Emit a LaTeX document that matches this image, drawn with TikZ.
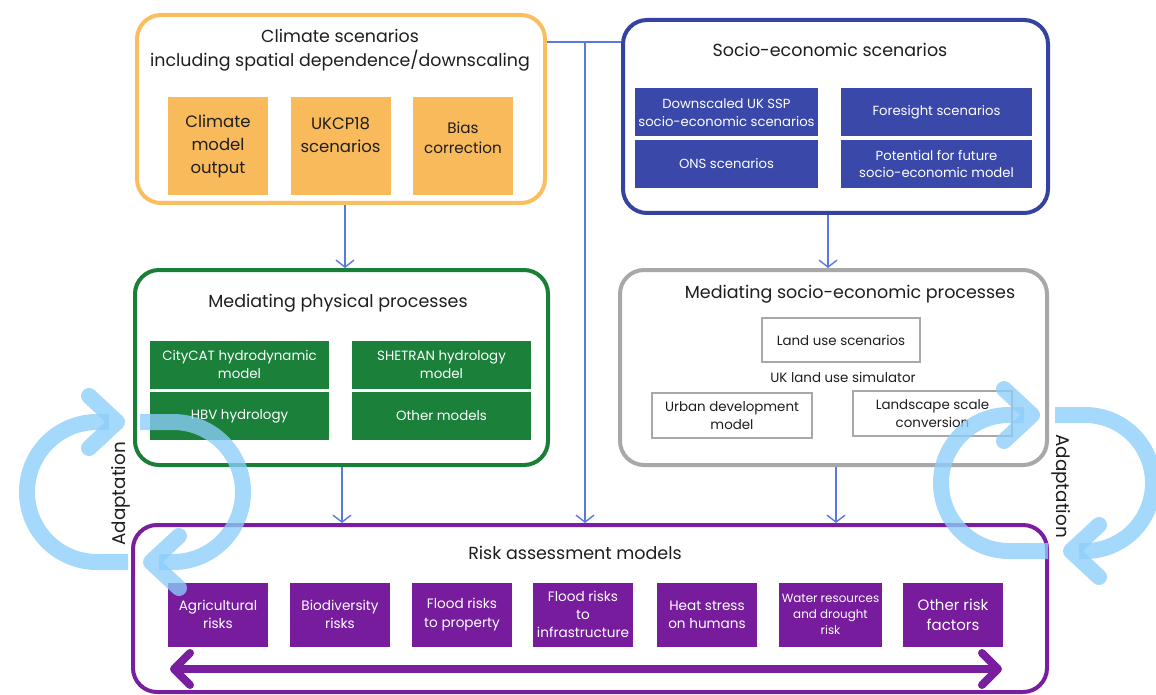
\documentclass[tikz,border=0pt]{standalone}
\usepackage{fontspec}
\setmainfont{Poppins}
\usetikzlibrary{arrows.meta}
\definecolor{corange}{RGB}{250,190,95}
\definecolor{forange}{RGB}{249,186,92}
\definecolor{cblue}{RGB}{52,66,160}
\definecolor{fblue}{RGB}{58,72,170}
\definecolor{cgreen}{RGB}{24,126,56}
\definecolor{fgreen}{RGB}{26,128,58}
\definecolor{cgray}{RGB}{168,168,168}
\definecolor{cpurple}{RGB}{122,30,160}
\definecolor{fpurple}{RGB}{118,28,156}
\definecolor{lblue}{RGB}{140,206,250}
\definecolor{cconn}{RGB}{88,120,226}
\definecolor{ctext}{RGB}{30,30,30}
\tikzset{
  fs/.style={font=\fontsize{#1}{\dimexpr #1pt*135/100\relax}\selectfont},
  big/.style={draw=#1, line width=4pt, rounded corners=24pt, fill=white},
  title/.style={text=ctext, align=center, fs=17.5},
  fbox/.style={fill=#1, draw=none, inner sep=0pt, align=center, text=white},
  gbox/.style={draw=cgray, line width=2.5pt, fill=white, inner sep=0pt, align=center, text=ctext, fs=13.4},
  conn/.style={draw=cconn, line width=1.4pt, -{Straight Barb[length=7pt,width=18pt,line width=1.4pt]}},
  connline/.style={draw=cconn, line width=1.4pt},
  dbl/.style={draw=cpurple, line width=8pt, {Straight Barb[length=16pt,width=32pt,line width=8pt,round]}-{Straight Barb[length=16pt,width=32pt,line width=8pt,round]}},
  loop/.style={draw=lblue, line width=16pt, draw opacity=0.78, -{Straight Barb[length=28pt,width=52pt,line width=16pt,round]}},
  ada/.style={text=ctext, fs=18.4},
  otext/.style={text=ctext, align=center, inner sep=0pt, font=\fontsize{16.5}{23}\selectfont},
}
\begin{document}
\begin{tikzpicture}[x=1pt,y=-1pt]
\useasboundingbox (0,0) rectangle (1156,695);
% big boxes
\node[big=corange, minimum width=408pt, minimum height=188pt] (clim) at (341,109) {};
\node[big=cblue, minimum width=425pt, minimum height=193pt] (socio) at (835.5,116.5) {};
\node[big=cgreen, minimum width=413pt, minimum height=195pt] (phys) at (341.5,367.5) {};
\node[big=cgray, minimum width=427pt, minimum height=195pt] (sproc) at (833.5,367.5) {};
\node[big=cpurple, minimum width=914pt, minimum height=167pt] (risk) at (590,608.5) {};
% titles
\node[title, font=\fontsize{17.4}{24}\selectfont] (tclim) at (340,50) {Climate scenarios\\including spatial dependence/downscaling};
\node[title] (tsocio) at (830,50) {Socio-economic scenarios};
\node[title] (tphys) at (338,303) {Mediating physical processes};
\node[title] (tsproc) at (850,294) {Mediating socio-economic processes};
\node[title] (trisk) at (575,553) {Risk assessment models};
% climate boxes
\tikzset{obox/.style={fill=forange, draw=none, inner sep=0pt, minimum width=100pt, minimum height=98pt}}
\node[obox] (cmo) at (218,146) {};
\node[obox] (ukcp) at (340.5,146) {};
\node[obox] (bias) at (463,146) {};
\node[otext] (tcmo) at (cmo.center) {Climate\\model\\output};
\node[otext] (tukcp) at ([yshift=11pt]ukcp.center) {UKCP18\\scenarios};
\node[otext, font=\fontsize{15.2}{20}\selectfont] (tbias) at ([yshift=8pt]bias.center) {Bias\\correction};
% socio boxes
\tikzset{bbox/.style={fbox=fblue, fs=13.2, minimum width=183pt, minimum height=48pt}}
\node[bbox] (ssp) at (726.5,112.5) {Downscaled UK SSP\\socio-economic scenarios};
\node[bbox, minimum width=191pt] (fore) at (936.5,112.5) {Foresight scenarios};
\node[bbox] (ons) at (726.5,164) {ONS scenarios};
\node[bbox, minimum width=191pt] (pot) at (936.5,164) {Potential for future\\socio-economic model};
% physical boxes
\tikzset{grbox/.style={fbox=fgreen, fs=13.4, minimum width=179pt, minimum height=48pt}}
\node[grbox] (city) at (239.5,364.5) {CityCAT hydrodynamic\\model};
\node[grbox] (shet) at (441.5,364.5) {SHETRAN hydrology\\model};
\node[grbox] (hbv) at (239.5,416) {HBV hydrology};
\node[grbox] (oth) at (441.5,416) {Other models};
% socio processes
\node[gbox, minimum width=158pt, minimum height=44pt] (land) at (841,340) {Land use scenarios};
\node[text=ctext, fs=13.4] (sim) at (843,377) {UK land use simulator};
\node[gbox, minimum width=160pt, minimum height=45pt] (urban) at (732,415.5) {Urban development\\model};
\node[gbox, minimum width=159pt, minimum height=45pt] (lsc) at (932.5,413.5) {Landscape scale\\conversion};
% risk boxes
\tikzset{pbox/.style={fbox=fpurple, fs=13.6, minimum width=100pt, minimum height=64pt}}
\node[pbox] (r1) at (218,614.5) {Agricultural\\risks};
\node[pbox] (r2) at (340,614.5) {Biodiversity\\risks};
\node[pbox] (r3) at (462,614.5) {Flood risks\\to property};
\node[pbox] (r4) at (583,614.5) {Flood risks\\to\\infrastructure};
\node[pbox] (r5) at (707,614.5) {Heat stress\\on humans};
\node[pbox, font=\fontsize{11.9}{16}\selectfont, minimum width=103pt] (r6) at (830.5,614.5) {Water resources\\and drought\\risk};
\node[pbox, fs=15] (r7) at (953,614.5) {Other risk\\factors};
% connectors
\coordinate (p1) at (345,0);
\coordinate (p2) at (828,0);
\coordinate (p3) at (342,0);
\coordinate (p4) at (836,0);
\coordinate (j) at (585,42);
\draw[conn] (clim.south -| p1) -- (phys.north -| p1);
\draw[conn] (socio.south -| p2) -- (sproc.north -| p2);
\draw[conn] (phys.south -| p3) -- (risk.north -| p3);
\draw[conn] (sproc.south -| p4) -- (risk.north -| p4);
\draw[connline] (clim.east |- j) -- (socio.west |- j);
\draw[conn] (j) -- (risk.north -| j);
% double arrow in risk box
\coordinate (dl) at (170,669);
\coordinate (dr) at (1002,669);
\draw[dbl] (dl) -- (dr);
% adaptation loops
\node[ada, rotate=90] (adl) at (121,494) {Adaptation};
\node[ada, rotate=-90] (adr) at (1061,486) {Adaptation};
\draw[loop] (128,562) -- (97,562) .. controls (58.3,562) and (27,530.7) .. (27,492) .. controls (27,453.3) and (58.3,422) .. (97,422) -- (125,422);
\draw[loop] (140,422) -- (173,422) .. controls (211.7,422) and (243,453.3) .. (243,492) .. controls (243,530.7) and (211.7,562) .. (173,562) -- (143,562);
\draw[loop] (1048,551) -- (1009,551) .. controls (971.4,551) and (941,520.6) .. (941,483) .. controls (941,445.4) and (971.4,415) .. (1009,415) -- (1040,415);
\draw[loop] (1055,415) -- (1085,415) .. controls (1122.6,415) and (1153,445.4) .. (1153,483) .. controls (1153,520.6) and (1122.6,551) .. (1085,551) -- (1063,551);
\end{tikzpicture}
\end{document}
